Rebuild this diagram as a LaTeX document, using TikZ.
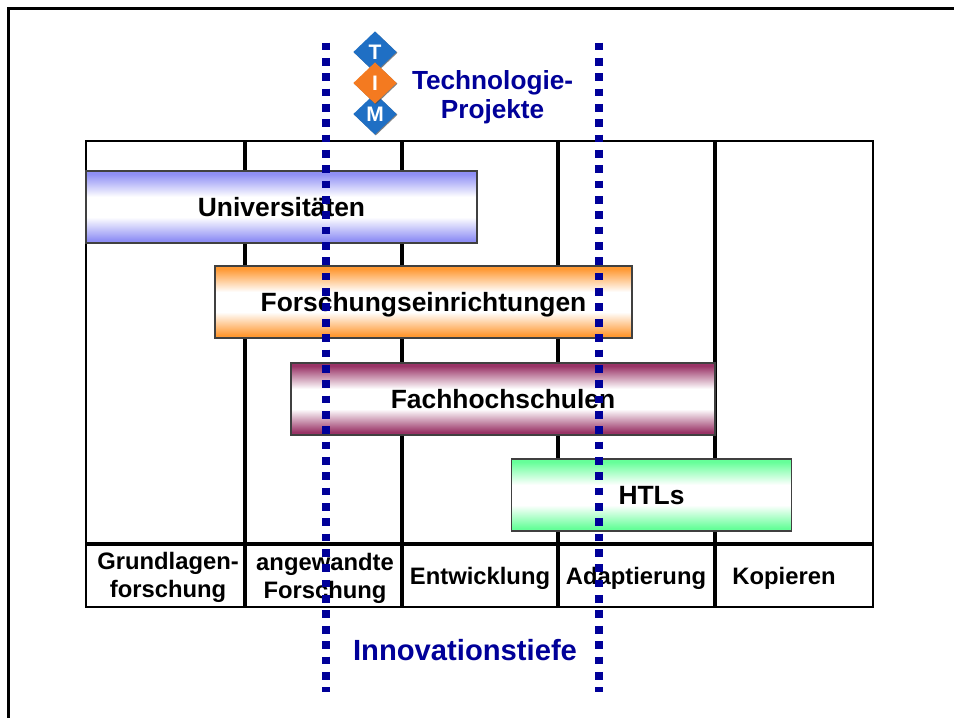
\documentclass[tikz,border=0pt]{standalone}
\usepackage{fontspec}
\setmainfont{Liberation Sans}
\usetikzlibrary{shapes.geometric, positioning, shadows}
\definecolor{navy}{HTML}{000099}
\definecolor{logoblue}{HTML}{1F6FC4}
\definecolor{logoorange}{HTML}{F47A20}
\definecolor{unibar}{HTML}{8F8FF5}
\definecolor{resbar}{HTML}{FF9933}
\definecolor{fhbar}{HTML}{993366}
\definecolor{htlbar}{HTML}{66FF99}
\pgfdeclareverticalshading{unishade}{100bp}{color(0bp)=(unibar); color(27bp)=(unibar); color(43bp)=(white); color(57bp)=(white); color(73bp)=(unibar); color(100bp)=(unibar)}
\pgfdeclareverticalshading{resshade}{100bp}{color(0bp)=(resbar); color(27bp)=(resbar); color(43bp)=(white); color(57bp)=(white); color(73bp)=(resbar); color(100bp)=(resbar)}
\pgfdeclareverticalshading{fhshade}{100bp}{color(0bp)=(fhbar); color(27bp)=(fhbar); color(43bp)=(white); color(57bp)=(white); color(73bp)=(fhbar); color(100bp)=(fhbar)}
\pgfdeclareverticalshading{htlshade}{100bp}{color(0bp)=(htlbar); color(27bp)=(htlbar); color(43bp)=(white); color(57bp)=(white); color(73bp)=(htlbar); color(100bp)=(htlbar)}

\begin{document}
\begin{tikzpicture}[x=1pt, y=-1pt, line width=2pt]
% Block styles
\tikzstyle{gridbox}=[inner sep=0pt, outer sep=0pt, draw=black, minimum width=787pt, minimum height=466pt]
\tikzstyle{bar}=[inner sep=0pt, outer sep=0pt, draw=black!75, line width=1.3pt, minimum height=72pt, align=center, text depth=0pt, font=\fontsize{26.4}{30}\selectfont\bfseries]
\tikzstyle{collabel}=[inner sep=0pt, align=center, font=\fontsize{23.8}{28}\selectfont\bfseries]
\tikzstyle{bluelabel}=[inner sep=0pt, align=center, text=navy, font=\fontsize{26.2}{29.5}\selectfont\bfseries]
\tikzstyle{logo}=[diamond, aspect=1.1, inner sep=0pt, minimum width=44pt, minimum height=42pt, text=white, font=\fontsize{21}{21}\selectfont\bfseries, drop shadow={shadow xshift=.8pt, shadow yshift=-.8pt, fill=black!70, opacity=.7}]
\tikzstyle{divider}=[line width=4pt, black]
\tikzstyle{dotline}=[line width=7.7pt, navy, dash pattern=on 7.7pt off 7.65pt]
\useasboundingbox (0,0) rectangle (954,718);
% Frame
\coordinate (f1) at (8,718);
\coordinate (f2) at (8,8);
\coordinate (f3) at (954,8);
\draw[line width=3pt, black] (f1)--(f2)--(f3);
% Grid
\node[gridbox] (G) at (479.5,374) {};
\foreach \name/\xx in {a/244.5, b/401.5, c/558, d/715}{
  \coordinate (\name1) at (\xx,141);
  \coordinate (\name2) at (\xx,607);
  \draw[divider] (\name1)--(\name2);
}
\coordinate (h1) at (86,544);
\coordinate (h2) at (873,544);
\draw[divider] (h1)--(h2);
% Bars
\node[bar, shading=unishade, minimum width=391pt] (uni) at (281.5,207) {Universitäten};
\node[bar, shading=resshade, minimum width=417pt] (res) at (423.5,302) {Forschungseinrichtungen};
\node[bar, shading=fhshade, minimum width=424pt] (fh) at (503,399) {Fachhochschulen};
\node[bar, shading=htlshade, minimum width=280pt] (htl) at (651.5,495) {HTLs};
% Col labels
\node[collabel] (col1) at (168,577) {Grundlagen-\\forschung};
\node[collabel] (col2) at (325,578) {angewandte\\Forschung};
\node[collabel] (col3) at (480,578) {Entwicklung};
\node[collabel] (col4) at (636,578) {Adaptierung};
\node[collabel] (col5) at (784,578) {Kopieren};
% Logo
\node[logo, fill=logoblue] (T) at (375,52) {T};
\node[logo, fill=logoblue] (M) at (375,114) {M};
\node[logo, fill=logoorange] (I) at (375,83) {I};
% Blue texts
\node[bluelabel, right=13pt of I, yshift=-14pt] (tech) {Technologie-\\Projekte};
\node[bluelabel, font=\fontsize{29.2}{32}\selectfont\bfseries] (tiefe) at (465,650) {Innovationstiefe};
% Dotted lines
\coordinate (l1) at (326,42.5);
\coordinate (l2) at (326,692);
\coordinate (r1) at (599,42.5);
\coordinate (r2) at (599,692);
\draw[dotline] (l1)--(l2);
\draw[dotline] (r1)--(r2);
\end{tikzpicture}
\end{document}
